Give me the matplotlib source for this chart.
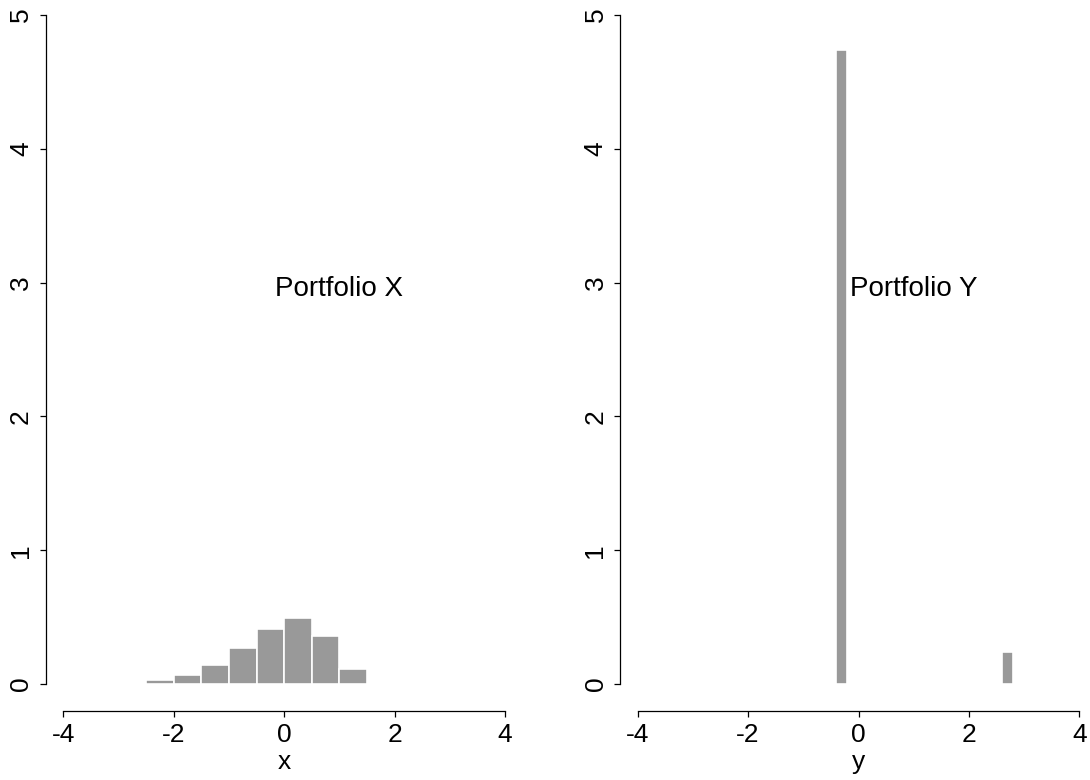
import matplotlib
matplotlib.use('Agg')
from matplotlib import pyplot as plt
import numpy as np

plt.rcParams['font.family'] = ['Liberation Sans', 'DejaVu Sans']

# Portfolio X: histogram (density), bin width 0.5 starting at -4.5
x_bin_left = [-4.5, -4.0, -3.5, -3.0, -2.5, -2.0, -1.5, -1.0, -0.5, 0.0, 0.5, 1.0, 1.5]
x_density = [0.0, 0.0, 0.0, 0.007, 0.03, 0.065, 0.142, 0.267, 0.413, 0.491, 0.359, 0.11, 0.0]
x_bin_width = 0.5

# Portfolio Y: two-point distribution, bin width 0.2
y_bin_left = [-0.4, 2.6]
y_density = [4.74, 0.24]
y_bin_width = 0.2

x_ticks = [-4, -2, 0, 2, 4]
y_ticks = [0, 1, 2, 3, 4, 5]

bar_color = '#999999'
font_size = 19

fig = plt.figure(figsize=(10.9, 7.8), dpi=100)
ax_left = fig.add_axes([45.6 / 1090, 0.0887, (522.7 - 45.6) / 1090, 0.9264])
ax_right = fig.add_axes([620.0 / 1090, 0.0887, (1097.0 - 620.0) / 1090, 0.9264])


def style_axis(ax, xlabel):
    ax.set_xlim(-4.32, 4.32)
    ax.set_ylim(-0.2, 5.2)
    ax.spines['top'].set_visible(False)
    ax.spines['right'].set_visible(False)
    ax.spines['left'].set_bounds(0, 5)
    ax.spines['bottom'].set_bounds(-4, 4)
    for s in ('left', 'bottom'):
        ax.spines[s].set_linewidth(0.9)
    ax.set_xticks(x_ticks)
    ax.set_yticks(y_ticks)
    ax.set_xticklabels([str(t) for t in x_ticks])
    ax.set_yticklabels([str(t) for t in y_ticks], rotation=90, va='center')
    ax.tick_params(axis='both', direction='out', length=4, width=0.9,
                   labelsize=font_size)
    ax.tick_params(axis='x', pad=5)
    ax.tick_params(axis='y', pad=5)
    ax.set_xlabel(xlabel, fontsize=font_size, labelpad=2)
    ax.patch.set_alpha(0)


ax_left.bar(x_bin_left, x_density, width=x_bin_width, align='edge',
            color=bar_color, edgecolor='white', linewidth=1.2)
ax_left.text(1.0, 2.95, 'Portfolio X', ha='center', va='center', fontsize=font_size + 1)
style_axis(ax_left, 'x')

ax_right.bar(y_bin_left, y_density, width=y_bin_width, align='edge',
             color=bar_color, edgecolor='white', linewidth=1.2)
ax_right.text(1.0, 2.95, 'Portfolio Y', ha='center', va='center', fontsize=font_size + 1)
style_axis(ax_right, 'y')

plt.savefig('out.png', dpi=100)
